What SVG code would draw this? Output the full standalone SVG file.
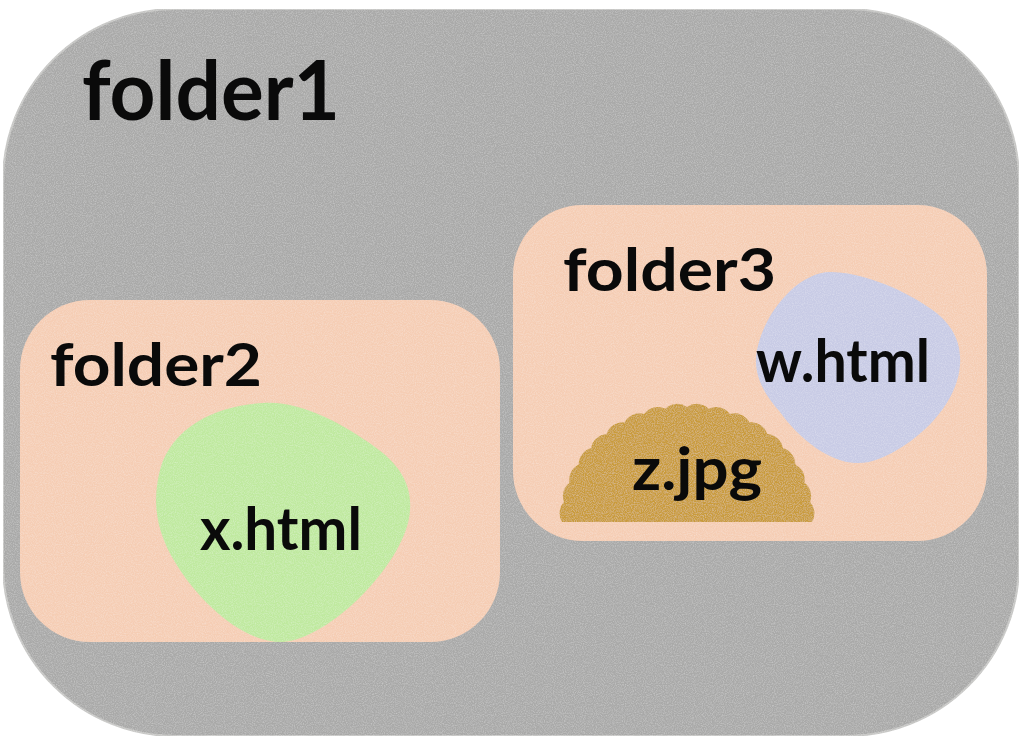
<svg xmlns="http://www.w3.org/2000/svg" width="1024" height="750" viewBox="0 0 1024 750">
<style>
.lbl{font-family:Lato,"Liberation Sans",sans-serif;font-weight:bold;fill:#0a0a0a}
.folder2{fill:#f5cdb4}
</style>
<defs>
<filter id="tex" x="0" y="0" width="100%" height="100%">
<feTurbulence type="fractalNoise" baseFrequency="0.9" numOctaves="2" seed="3" result="n"/>
<feColorMatrix in="n" type="matrix" values="0 0 0 0 1  0 0 0 0 1  0 0 0 0 1  0 0 0 -1.6 1.0" result="w"/>
<feComposite in="w" in2="SourceGraphic" operator="in" result="wc"/>
<feComponentTransfer in="wc" result="wa"><feFuncA type="linear" slope="0.3"/></feComponentTransfer>
<feMerge><feMergeNode in="SourceGraphic"/><feMergeNode in="wa"/></feMerge>
</filter>
</defs>
<rect width="1024" height="750" fill="#ffffff"/>
<g id="folder1">
<rect x="3" y="9" width="1016" height="727" rx="172" ry="172" fill="#a9a9a8" stroke="#c6c6c4" stroke-width="2" filter="url(#tex)"/>
<text class="lbl" x="82" y="120" font-size="82" textLength="258" lengthAdjust="spacingAndGlyphs">folder1</text>
</g>
<g id="folder2">
<rect class="folder2" x="20" y="300" width="480" height="342" rx="70" ry="70" filter="url(#tex)"/>
<text class="lbl" x="50" y="386" font-size="60" textLength="212" lengthAdjust="spacingAndGlyphs">folder2</text>
</g>
<g id="folder3">
<rect class="folder2" x="513" y="205" width="474" height="336" rx="70" ry="70" filter="url(#tex)"/>
<text class="lbl" x="563" y="291" font-size="60" textLength="213" lengthAdjust="spacingAndGlyphs">folder3</text>
</g>
<g id="x_html">
<path d="M 263 403 C 300 400, 345 425, 375 447 C 400 465, 412 485, 410 510 C 408 560, 330 640, 282 642 C 240 642, 200 600, 180 570 C 160 540, 150 510, 160 470 C 172 425, 220 405, 263 403 Z" fill="#bfe99f" filter="url(#tex)"/>
<text class="lbl" x="200" y="550" font-size="60" textLength="162" lengthAdjust="spacingAndGlyphs">x.html</text>
</g>
<g id="w_html">
<path d="M 830 272 C 860 272, 900 288, 925 305 C 950 320, 962 340, 960 365 C 958 395, 935 425, 905 445 C 885 458, 870 464, 855 463 C 830 462, 800 440, 780 412 C 765 395, 752 375, 757 350 C 765 310, 800 272, 830 272 Z" fill="#c8cbe5" filter="url(#tex)"/>
<text class="lbl" x="756" y="382" font-size="60" textLength="174" lengthAdjust="spacingAndGlyphs">w.html</text>
</g>
<g id="z_jpg">
<path d="M 562 522 A 17 17 0 0 1 563.9 502 A 17 17 0 0 1 569.5 482.7 A 17 17 0 0 1 578.7 464.5 A 17 17 0 0 1 591.2 448.1 A 17 17 0 0 1 606.6 433.9 A 17 17 0 0 1 624.5 422.4 A 17 17 0 0 1 644.2 413.9 A 17 17 0 0 1 665.3 408.7 A 17 17 0 0 1 687 407 A 17 17 0 0 1 708.7 408.7 A 17 17 0 0 1 729.8 413.9 A 17 17 0 0 1 749.5 422.4 A 17 17 0 0 1 767.4 433.9 A 17 17 0 0 1 782.8 448.1 A 17 17 0 0 1 795.3 464.5 A 17 17 0 0 1 804.5 482.7 A 17 17 0 0 1 810.1 502 A 17 17 0 0 1 812 522 Z" fill="#c99b3a" filter="url(#tex)"/>
<text class="lbl" x="632" y="490" font-size="60" textLength="130" lengthAdjust="spacingAndGlyphs">z.jpg</text>
</g>
<g id="connectors"/>
</svg>
